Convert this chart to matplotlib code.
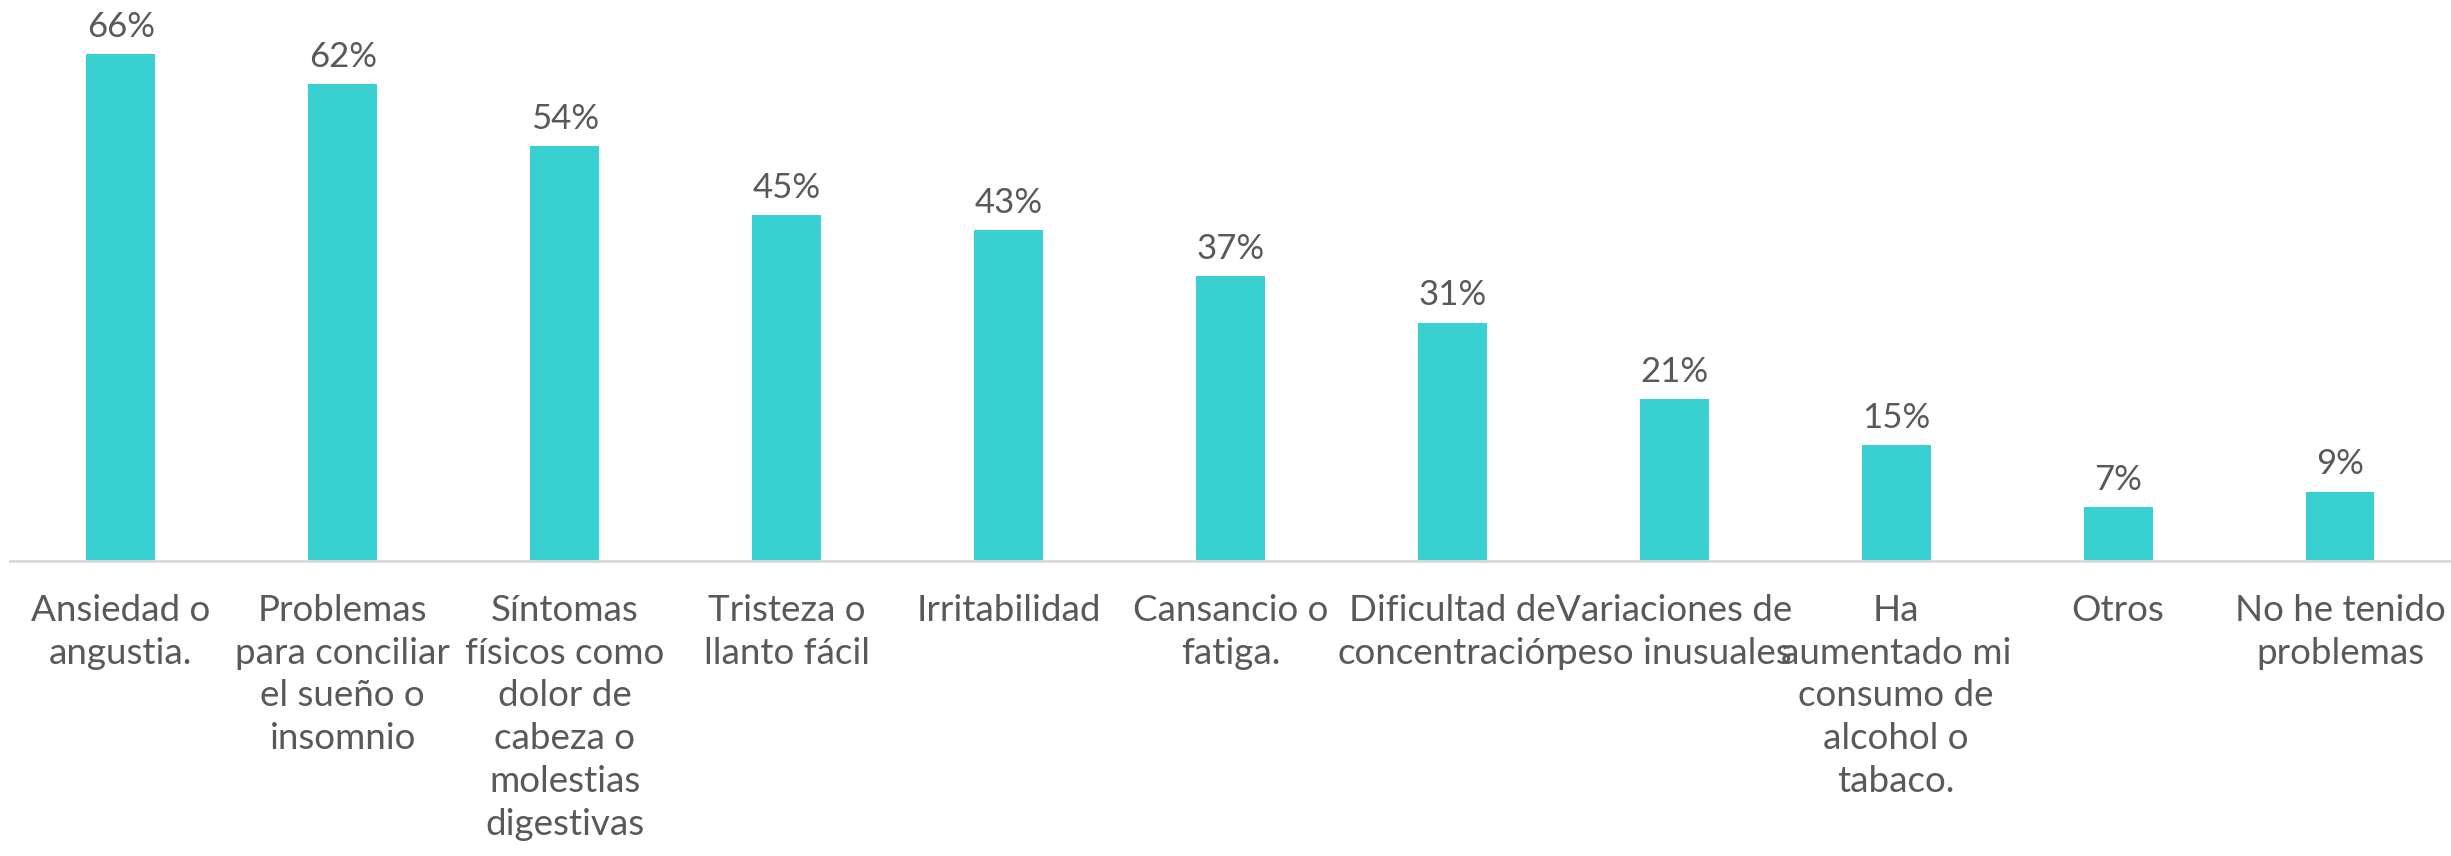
import numpy as np
import matplotlib
matplotlib.use('Agg')
import matplotlib.pyplot as plt

plt.rcParams['font.family'] = ['Lato', 'DejaVu Sans']

# data
categorias = ['Ansiedad o\nangustia.',
              'Problemas\npara conciliar\nel sueño o\ninsomnio',
              'Síntomas\nfísicos como\ndolor de\ncabeza o\nmolestias\ndigestivas',
              'Tristeza o\nllanto fácil',
              'Irritabilidad',
              'Cansancio o\nfatiga.',
              'Dificultad de\nconcentración',
              'Variaciones de\npeso inusuales',
              'Ha\naumentado mi\nconsumo de\nalcohol o\ntabaco.',
              'Otros',
              'No he tenido\nproblemas']
valores = [0.66, 0.62, 0.54, 0.45, 0.43, 0.37, 0.31, 0.21, 0.15, 0.07, 0.09]

color_barra = '#39D0D1'
color_texto = '#595959'

fig = plt.figure(figsize=(24.51, 8.56), dpi=100)
ax = fig.add_axes([0.004, 0.345, 0.996, 0.655])

x = np.arange(len(categorias))
bars = ax.bar(x, valores, width=0.31, color=color_barra, zorder=2)

for xi, v in zip(x, valores):
    ax.annotate('{:.0%}'.format(v), (xi, v), xytext=(0, 8), textcoords='offset points',
                ha='center', va='bottom', fontsize=25, color=color_texto)

ax.set_xlim(-0.5, len(categorias) - 0.5)
ax.set_ylim(0, 0.73)
ax.set_xticks(x)
ax.set_xticklabels(categorias, fontsize=26.5, color=color_texto, linespacing=1.36)
ax.tick_params(axis='x', length=0, pad=24)
ax.set_yticks([])

for s in ['top', 'right', 'left']:
    ax.spines[s].set_visible(False)
ax.spines['bottom'].set_color('#D9D9D9')
ax.spines['bottom'].set_linewidth(2)

fig.savefig('out.png', dpi=100)
